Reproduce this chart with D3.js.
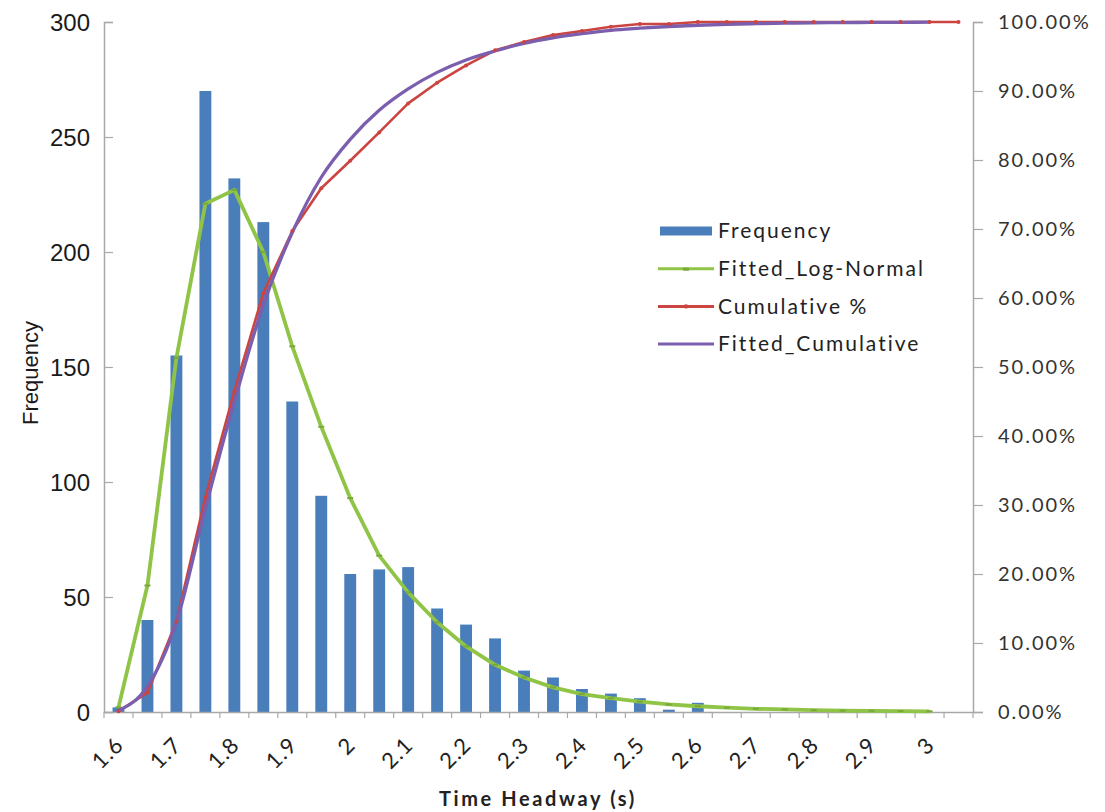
<!DOCTYPE html>
<html>
<head>
<meta charset="utf-8">
<script src="https://cdn.jsdelivr.net/npm/d3@7"></script>
<style>
  body { margin: 0; background: #fff; }
</style>
</head>
<body>
<div id="chart"></div>
<script>
// headway categories (s)
const categories = [1.6, 1.65, 1.7, 1.75, 1.8, 1.85, 1.9, 1.95, 2, 2.05, 2.1, 2.15, 2.2, 2.25, 2.3,
  2.35, 2.4, 2.45, 2.5, 2.55, 2.6, 2.65, 2.7, 2.75, 2.8, 2.85, 2.9, 2.95, 3, 3.05];
const frequency = [2, 40, 155, 270, 232, 213, 135, 94, 60, 62, 63, 45, 38, 32, 18,
  15, 10, 8, 6, 1, 4, 0, 0, 0, 0, 0, 0, 0, 0, 0];
const fittedLogNormal = [2, 55, 154, 221, 227, 200, 159, 124, 93, 68, 52, 39, 28.5, 20.5, 15,
  10.7, 7.8, 6, 4.5, 3.3, 2.5, 1.9, 1.4, 1.1, 0.8, 0.6, 0.5, 0.4, 0.3];
const cumulativePct = [0.001, 0.028, 0.131, 0.311, 0.465, 0.607, 0.697, 0.759, 0.799, 0.840, 0.882, 0.912, 0.937, 0.959, 0.971,
  0.981, 0.987, 0.993, 0.997, 0.997, 1, 1, 1, 1, 1, 1, 1, 1, 1, 1];
const fittedCumulative = [0.002, 0.037, 0.13, 0.295, 0.45, 0.59, 0.695, 0.775, 0.83, 0.872, 0.903, 0.927, 0.945, 0.958, 0.969,
  0.977, 0.983, 0.988, 0.991, 0.9935, 0.9953, 0.9966, 0.9976, 0.9983, 0.9988, 0.9991, 0.9994, 0.9996, 0.9997];
const leftTicks = [0, 50, 100, 150, 200, 250, 300];
const rightTicks = [0, 0.1, 0.2, 0.3, 0.4, 0.5, 0.6, 0.7, 0.8, 0.9, 1];
const legendItems = ['Frequency', 'Fitted_Log-Normal', 'Cumulative %', 'Fitted_Cumulative'];

const width = 1105;
const height = 812;
const plotLeft = 104, plotRight = 973, plotTop = 22, plotBottom = 712;

const colors = { bar: '#4a7ebb', green: '#8fc447', red: '#cc4440', purple: '#7b5fae' };
const axisColor = '#a8a8a8';

const svg = d3.select('#chart')
    .append('svg')
    .attr('width', width)
    .attr('height', height);

const x = d3.scaleBand().domain(categories).range([plotLeft, plotRight]).padding(0);
const yL = d3.scaleLinear().domain([0, 300]).range([plotBottom, plotTop]);
const yR = d3.scaleLinear().domain([0, 1]).range([plotBottom, plotTop]);
const cx = i => x(categories[i]) + x.bandwidth() / 2;

// bars
const barW = x.bandwidth() * 0.41;
svg.append('g').selectAll('rect')
    .data(frequency)
    .enter()
    .append('rect')
    .attr('x', (d, i) => cx(i) - barW / 2)
    .attr('y', d => yL(d))
    .attr('width', barW)
    .attr('height', d => plotBottom - yL(d))
    .attr('fill', colors.bar);

// axes
const xAxis = d3.axisBottom(x).tickSize(0).tickFormat('');
svg.append('g')
    .attr('transform', `translate(0,${plotBottom})`)
    .call(xAxis)
    .call(g => g.select('.domain').attr('stroke', axisColor).attr('stroke-width', 1.5));

// x ticks at band boundaries
svg.append('g').selectAll('line')
    .data(d3.range(categories.length + 1))
    .enter()
    .append('line')
    .attr('x1', i => plotLeft + i * x.bandwidth())
    .attr('x2', i => plotLeft + i * x.bandwidth())
    .attr('y1', plotBottom)
    .attr('y2', plotBottom + 6)
    .attr('stroke', axisColor)
    .attr('stroke-width', 1.2);

// x tick labels, every other category
svg.append('g').selectAll('text')
    .data(categories.filter((d, i) => i % 2 === 0 && d <= 3))
    .enter()
    .append('text')
    .attr('transform', d => `translate(${x(d) + x.bandwidth() / 2 + 1},${plotBottom + 29}) rotate(-45)`)
    .attr('text-anchor', 'end')
    .attr('dy', '0.35em')
    .style('font-family', 'Lato, sans-serif')
    .style('font-size', '22px')
    .style('letter-spacing', '1px')
    .style('fill', '#222')
    .text(d => String(d));

const yAxisL = d3.axisRight(yL).tickValues(leftTicks).tickSize(9).tickFormat('');
svg.append('g')
    .attr('transform', `translate(${plotLeft},0)`)
    .call(yAxisL)
    .call(g => g.select('.domain').attr('stroke', axisColor).attr('stroke-width', 1.5))
    .call(g => g.selectAll('.tick line').attr('stroke', axisColor).attr('stroke-width', 1.2));

svg.append('g').selectAll('text')
    .data(leftTicks)
    .enter()
    .append('text')
    .attr('x', 90)
    .attr('y', d => yL(d))
    .attr('dy', '0.36em')
    .attr('text-anchor', 'end')
    .style('font-family', '"Liberation Sans", Arial, sans-serif')
    .style('font-size', '24px')
    .style('fill', '#1a1a1a')
    .text(d => d);

const yAxisR = d3.axisRight(yR).tickValues(rightTicks).tickSize(10).tickFormat('');
svg.append('g')
    .attr('transform', `translate(${plotRight},0)`)
    .call(yAxisR)
    .call(g => g.select('.domain').attr('stroke', axisColor).attr('stroke-width', 1.5))
    .call(g => g.selectAll('.tick line').attr('stroke', axisColor).attr('stroke-width', 1.2));

svg.append('g').selectAll('text')
    .data(rightTicks)
    .enter()
    .append('text')
    .attr('x', 998)
    .attr('y', d => yR(d))
    .attr('dy', '0.36em')
    .style('font-family', 'Lato, sans-serif')
    .style('font-size', '20px')
    .style('letter-spacing', '2px')
    .style('fill', '#333')
    .text(d => d3.format('.2%')(d));

// axis titles
svg.append('text')
    .attr('transform', 'translate(38,373) rotate(-90)')
    .attr('text-anchor', 'middle')
    .style('font-family', '"Liberation Sans", Arial, sans-serif')
    .style('font-size', '22px')
    .style('fill', '#1a1a1a')
    .text('Frequency');

svg.append('text')
    .attr('x', 538)
    .attr('y', 806)
    .attr('text-anchor', 'middle')
    .style('font-family', 'Lato, sans-serif')
    .style('font-weight', 'bold')
    .style('font-size', '20px')
    .style('letter-spacing', '2.6px')
    .style('fill', '#222')
    .text('Time Headway (s)');

// lines
const greenLine = d3.line().x((d, i) => cx(i)).y(d => yL(d));
svg.append('path')
    .datum(fittedLogNormal)
    .attr('d', greenLine)
    .attr('fill', 'none')
    .attr('stroke', colors.green)
    .attr('stroke-width', 3.8)
    .attr('stroke-linejoin', 'round');
svg.append('g').selectAll('rect')
    .data(fittedLogNormal)
    .enter()
    .append('rect')
    .attr('x', (d, i) => cx(i) - 3)
    .attr('y', d => yL(d) - 1)
    .attr('width', 6)
    .attr('height', 2)
    .attr('fill', '#79a83a');

const redLine = d3.line().x((d, i) => cx(i)).y(d => yR(d));
svg.append('path')
    .datum(cumulativePct)
    .attr('d', redLine)
    .attr('fill', 'none')
    .attr('stroke', colors.red)
    .attr('stroke-width', 2.6)
    .attr('stroke-linejoin', 'round');

const purpleLine = d3.line().x((d, i) => cx(i)).y(d => yR(d)).curve(d3.curveMonotoneX);
svg.append('path')
    .datum(fittedCumulative)
    .attr('d', purpleLine)
    .attr('fill', 'none')
    .attr('stroke', colors.purple)
    .attr('stroke-width', 3.3);

svg.append('g').selectAll('circle')
    .data(cumulativePct)
    .enter()
    .append('circle')
    .attr('cx', (d, i) => cx(i))
    .attr('cy', d => yR(d))
    .attr('r', 2)
    .attr('fill', colors.red);

// legend
const legend = svg.append('g').attr('transform', 'translate(658,231)');
const rowH = 37.7;
legendItems.forEach((name, i) => {
  const g = legend.append('g').attr('transform', `translate(0,${i * rowH})`);
  if (i === 0) {
    g.append('rect').attr('x', 2).attr('y', -4.5).attr('width', 52).attr('height', 9).attr('fill', colors.bar);
  } else {
    const c = [colors.green, colors.red, colors.purple][i - 1];
    g.append('line').attr('x1', 0).attr('x2', 56).attr('y1', 0).attr('y2', 0)
        .attr('stroke', c).attr('stroke-width', 3);
    if (i === 1) g.append('rect').attr('x', 25).attr('y', -1).attr('width', 6).attr('height', 3).attr('fill', '#79a83a');
    if (i === 2) g.append('circle').attr('cx', 28).attr('cy', 0).attr('r', 2.2).attr('fill', colors.red);
  }
  g.append('text')
      .attr('x', 60)
      .attr('dy', '0.35em')
      .style('font-family', 'Lato, sans-serif')
      .style('font-size', '21px')
      .style('letter-spacing', '2px')
      .style('fill', '#222')
      .text(name);
});
</script>
</body>
</html>
